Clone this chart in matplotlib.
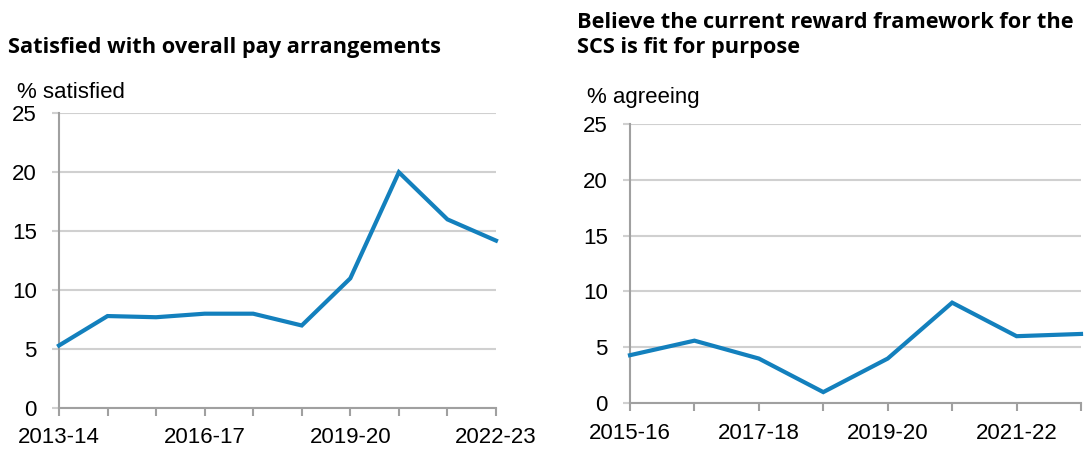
import matplotlib
matplotlib.use("Agg")
from matplotlib import pyplot as plt

# data
pay_years = ["2013-14", "2014-15", "2015-16", "2016-17", "2017-18",
             "2018-19", "2019-20", "2020-21", "2021-22", "2022-23"]
pay_satisfied = [5.3, 7.8, 7.7, 8.0, 8.0, 7.0, 11.0, 20.0, 16.0, 14.2]

reward_years = ["2015-16", "2016-17", "2017-18", "2018-19",
                "2019-20", "2020-21", "2021-22", "2022-23"]
reward_agreeing = [4.3, 5.6, 4.0, 1.0, 4.0, 9.0, 6.0, 6.2]

yticks = [0, 5, 10, 15, 20, 25]

line_col = "#1380bd"
grid_col = "#d0d0d0"
axis_col = "#a0a0a0"
fs = 16

plt.rcParams["font.family"] = ["Liberation Sans", "DejaVu Sans"]

fig = plt.figure(figsize=(10.86, 4.49), dpi=100)
ax1 = fig.add_axes([0.0543, 0.0913, 0.4024, 0.6564])
ax2 = fig.add_axes([0.5801, 0.1018, 0.4153, 0.6227])


def style(ax, years, values, step):
    x = list(range(len(years)))
    ax.plot(x, values, color=line_col, lw=3.0, solid_joinstyle="miter", clip_on=False, zorder=3)
    ax.set_xlim(0, len(years) - 1)
    ax.set_ylim(0, 25)
    ax.set_yticks(yticks)
    ax.set_xticks(x)
    ax.set_xticklabels([y if i % step == 0 else "" for i, y in enumerate(years)])
    ax.grid(axis="y", color=grid_col, lw=1.5)
    ax.set_axisbelow(True)
    for s in ["top", "right"]:
        ax.spines[s].set_visible(False)
    for s in ["left", "bottom"]:
        ax.spines[s].set_color(axis_col)
        ax.spines[s].set_linewidth(1.5)
    ax.tick_params(axis="y", length=5, color=grid_col, width=1.5, pad=11, labelsize=fs)
    ax.tick_params(axis="x", length=6, color=axis_col, width=1.5, labelsize=fs, pad=8)


style(ax1, pay_years, pay_satisfied, 3)
style(ax2, reward_years, reward_agreeing, 2)

title_font = dict(family=["Open Sans", "DejaVu Sans"], fontweight="bold", fontsize=15.7)
fig.text(8 / 1086, 1 - 47 / 449, "Satisfied with overall pay arrangements",
         ha="left", va="center", **title_font)
fig.text(577 / 1086, 1 - 35 / 449, "Believe the current reward framework for the\nSCS is fit for purpose",
         ha="left", va="center", linespacing=1.22, **title_font)

fig.text(17 / 1086, 1 - 92 / 449, "% satisfied", ha="left", va="center", fontsize=fs)
fig.text(587 / 1086, 1 - 98 / 449, "% agreeing", ha="left", va="center", fontsize=fs)

fig.savefig("out.png", dpi=100)
